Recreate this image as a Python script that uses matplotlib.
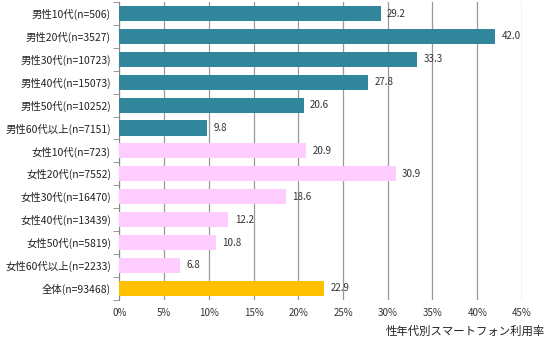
import matplotlib
matplotlib.use("Agg")
import matplotlib.pyplot as plt
from matplotlib.ticker import FixedLocator, PercentFormatter

plt.rcParams['font.family'] = ['Noto Sans CJK JP', 'DejaVu Sans']

# Smartphone usage rate by gender / age group
categories = [
    "男性10代(n=506)", "男性20代(n=3527)", "男性30代(n=10723)", "男性40代(n=15073)",
    "男性50代(n=10252)", "男性60代以上(n=7151)",
    "女性10代(n=723)", "女性20代(n=7552)", "女性30代(n=16470)", "女性40代(n=13439)",
    "女性50代(n=5819)", "女性60代以上(n=2233)",
    "全体(n=93468)",
]
values = [29.2, 42.0, 33.3, 27.8, 20.6, 9.8,
          20.9, 30.9, 18.6, 12.2, 10.8, 6.8,
          22.9]
groups = ["male"] * 6 + ["female"] * 6 + ["total"]
group_colors = {"male": "#31869B", "female": "#FFCCFF", "total": "#FFC000"}
xticks = [0, 5, 10, 15, 20, 25, 30, 35, 40, 45]
title = "性年代別スマートフォン利用率"

fig = plt.figure(figsize=(5.5, 3.43), dpi=100)
ax = fig.add_axes([0.217, 0.126, 0.732, 0.868])

ypos = list(range(len(categories)))
ax.barh(ypos, values, height=0.66, color=[group_colors[g] for g in groups], zorder=3)
for y, v in zip(ypos, values):
    ax.text(v + 0.7, y, f"{v:.1f}", va="center", ha="left", fontsize=7,
            color="#333333", zorder=4)

ax.set_ylim(len(categories) - 0.5, -0.5)
ax.set_xlim(0, 45)
ax.set_yticks(ypos)
ax.set_yticklabels(categories, fontsize=7.5, color="#222222")
ax.yaxis.set_minor_locator(FixedLocator([y - 0.5 for y in range(len(categories) + 1)]))
ax.tick_params(axis="y", which="major", length=0, pad=6)
ax.tick_params(axis="y", which="minor", length=4, color="#888888")

ax.set_xticks(xticks)
ax.xaxis.set_major_formatter(PercentFormatter(decimals=0))
ax.tick_params(axis="x", length=0, labelsize=7, labelcolor="#333333", pad=6)
ax.grid(axis="x", color="#999999", linewidth=0.9, zorder=0)

for side in ["top", "right", "bottom"]:
    ax.spines[side].set_visible(False)
ax.spines["left"].set_color("#888888")

fig.text(0.99, 0.018, title, ha="right", va="bottom", fontsize=8.2, color="#222222")

fig.savefig("out.png", dpi=100)
